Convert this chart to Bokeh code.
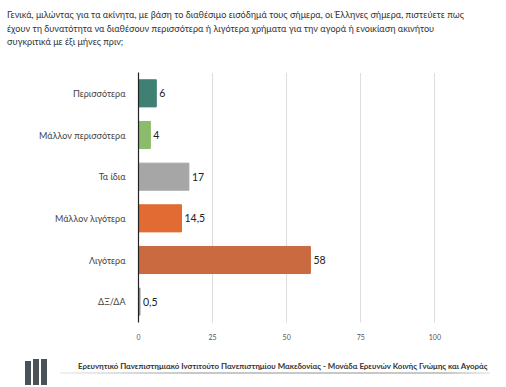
from bokeh.plotting import figure
from bokeh.models import ColumnDataSource, FactorRange, Div
from bokeh.layouts import column
from bokeh.core.properties import value
from bokeh.embed import file_html
from bokeh.resources import INLINE

categories = ["Περισσότερα", "Μάλλον περισσότερα", "Τα ίδια", "Μάλλον λιγότερα", "Λιγότερα", "ΔΞ/ΔΑ"]
values = [6, 4, 17, 14.5, 58, 0.5]
value_labels = ["6", "4", "17", "14,5", "58", "0,5"]
colors = ["#3f8073", "#8bbb6b", "#a6a6a6", "#e26b34", "#c96a40", "#8c8c8c"]
x_ticks = [0, 25, 50, 75, 100]

title_lines = [
    "Γενικά, μιλώντας για τα ακίνητα, με βάση το διαθέσιμο εισόδημά τους σήμερα, οι Έλληνες σήμερα, πιστεύετε πως",
    "έχουν τη δυνατότητα να διαθέσουν περισσότερα ή λιγότερα χρήματα για την αγορά ή ενοικίαση ακινήτου",
    "συγκριτικά με έξι μήνες πριν;",
]
footer_text = "Ερευνητικό Πανεπιστημιακό Ινστιτούτο Πανεπιστημίου Μακεδονίας - Μονάδα Ερευνών Κοινής Γνώμης και Αγοράς"

FONT = "Lato"
W = 506

# header
header_html = (
    f'<div style="position:relative;width:{W}px;height:72px;">'
    f'<div style="position:absolute;left:7px;top:8px;font-family:{FONT};font-size:9.1px;'
    f'line-height:13.5px;color:#333333;white-space:nowrap;">'
    + "<br>".join(title_lines) +
    '</div></div>'
)
header = Div(text=header_html, width=W, height=72, margin=0)

# main chart
src = ColumnDataSource(dict(cat=categories, val=values, lab=value_labels, col=colors))
p = figure(width=W, height=273, output_backend="svg", toolbar_location=None,
           y_range=FactorRange(*reversed(categories)), x_range=(0, 110),
           min_border_left=138, min_border_right=42, min_border_top=0, min_border_bottom=23)
p.outline_line_color = None

p.hbar(y="cat", right="val", left=0, height=0.65, color="col", source=src)
p.text(x="val", y="cat", text="lab", source=src, x_offset=3, text_baseline="middle",
       text_align="left", text_font_size="10.5px", text_color="#222222", text_font=value(FONT))

p.xaxis.ticker = x_ticks
p.xaxis.axis_line_color = None
p.xaxis.major_tick_line_color = None
p.xaxis.minor_tick_line_color = None
p.xaxis.major_label_text_font = FONT
p.xaxis.major_label_text_font_size = "7px"
p.xaxis.major_label_text_color = "#555555"
p.xaxis.major_label_standoff = 5

p.yaxis.axis_line_color = "#222222"
p.yaxis.axis_line_width = 1.2
p.yaxis.major_tick_line_color = None
p.yaxis.minor_tick_line_color = None
p.yaxis.major_label_text_font = FONT
p.yaxis.major_label_text_font_size = "9px"
p.yaxis.major_label_text_color = "#444444"
p.yaxis.major_label_standoff = 7

p.ygrid.grid_line_color = None
p.xgrid.ticker = x_ticks[1:]
p.xgrid.grid_line_color = "#bbbbbb"
p.xgrid.grid_line_dash = "1 1"

# footer
bars = "".join(
    f'<div style="position:absolute;left:{lx}px;top:{t}px;width:6px;height:{40 - t}px;background:#4a5258;"></div>'
    for lx, t in [(25, 16), (33, 14), (41, 14)]
)
footer_html = (
    f'<div style="position:relative;width:{W}px;height:42px;">'
    + bars +
    '<div style="position:absolute;left:60px;top:27px;width:430px;height:2px;'
    'background:linear-gradient(to right,#f2f2f2,#c8c8c8 30%,#c8c8c8 90%,#eeeeee);"></div>'
    f'<div style="position:absolute;left:78px;top:15px;width:415px;font-family:{FONT};font-size:7.9px;font-weight:bold;'
    f'line-height:12px;color:#333333;white-space:nowrap;">{footer_text}</div>'
    '</div>'
)
foot = Div(text=footer_html, width=W, height=42, margin=0)

layout = column(header, p, foot, spacing=0)
open("out.html", "w").write(file_html(layout, INLINE))
